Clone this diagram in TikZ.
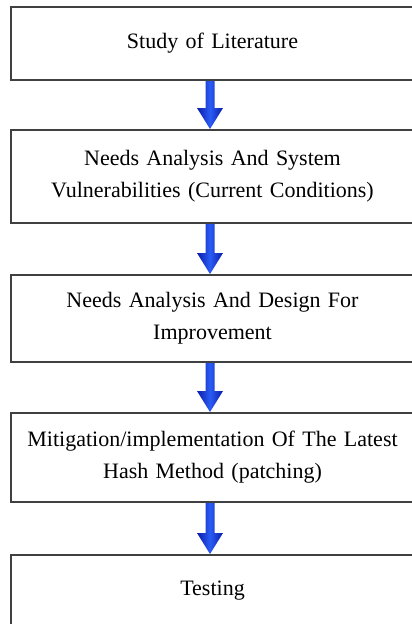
\documentclass[tikz,border=0pt]{standalone}
\usepackage{fontspec}
\setmainfont{Liberation Serif}
\usetikzlibrary{calc}
\definecolor{boxline}{HTML}{404040}
\definecolor{arrowedge}{HTML}{0a1ca8}
\definecolor{arrowmid}{HTML}{2a5cf5}
\tikzset{
  stepbox/.style={draw=boxline, line width=2pt, minimum width=403pt, text width=398pt,
    align=center, inner sep=1pt, font=\fontsize{22}{32}\selectfont},
  arrowshade/.style={left color=arrowedge, right color=arrowedge, middle color=arrowmid}
}
\begin{document}
\begin{tikzpicture}[x=1pt,y=-1pt]
\clip (0,0) rectangle (412,624);
\fill[white] (0,0) rectangle (412,624);
\node[stepbox, minimum height=73pt] (b1) at (212.5,43.5) {Study of Literature};
\node[stepbox, minimum height=93pt] (b2) at (212.5,176.5) {Needs Analysis And System\\Vulnerabilities (Current Conditions)};
\node[stepbox, minimum height=87pt] (b3) at (212.5,318.5) {Needs Analysis And Design For\\Improvement};
\node[stepbox, minimum height=89pt] (b4) at (212.5,457.5) {Mitigation/implementation Of The Latest\\Hash Method (patching)};
\node[stepbox, minimum height=72pt] (b5) at (212.5,591) {Testing};
\foreach \a/\b in {b1/b2,b2/b3,b3/b4,b4/b5}{
  \shade[arrowshade] let \p1=(\a.south), \p2=(\b.north) in
   (\x1-7pt,\y1) -- (\x1+2pt,\y1) -- (\x1+2pt,\y2+21pt) -- (\x1+10.5pt,\y2+21pt)
   -- (\x1-2.5pt,\y2) -- (\x1-15.5pt,\y2+21pt) -- (\x1-7pt,\y2+21pt) -- cycle;
}
\end{tikzpicture}
\end{document}
